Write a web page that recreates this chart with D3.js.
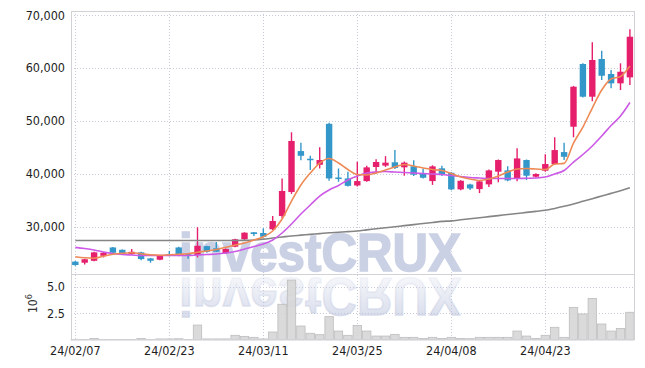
<!DOCTYPE html>
<html><head><meta charset="utf-8">
<script src="https://cdn.jsdelivr.net/npm/d3@7"></script>
<style>body{margin:0;background:#fff}svg{display:block}</style>
</head><body>
<svg id="c" width="645" height="368"></svg>
<script>
const dates = ["24/02/07","24/02/08","24/02/13","24/02/14","24/02/15","24/02/16","24/02/19","24/02/20","24/02/21","24/02/22",
"24/02/23","24/02/26","24/02/27","24/02/28","24/02/29","24/03/04","24/03/05","24/03/06","24/03/07","24/03/08",
"24/03/11","24/03/12","24/03/13","24/03/14","24/03/15","24/03/18","24/03/19","24/03/20","24/03/21","24/03/22",
"24/03/25","24/03/26","24/03/27","24/03/28","24/03/29","24/04/01","24/04/02","24/04/03","24/04/04","24/04/05",
"24/04/08","24/04/09","24/04/11","24/04/12","24/04/15","24/04/16","24/04/17","24/04/18","24/04/19","24/04/22",
"24/04/23","24/04/24","24/04/25","24/04/26","24/04/29","24/04/30","24/05/02","24/05/03","24/05/07","24/05/08"];
const open = [23400,23200,23560,24500,26080,25640,24820,25150,24010,23760,
24820,26080,24820,24640,26330,25920,25000,26220,27620,28940,
28810,29510,32020,36560,44290,42840,41700,49440,39300,39120,
37790,38620,41280,41540,42170,41220,41410,40070,38620,41030,
40200,37050,37980,37110,38000,40390,40640,39120,42600,39450,
40580,41840,44100,48890,60740,54560,61690,58850,57090,58220];
const close = [22750,23850,25150,25080,25080,24820,25260,23880,23560,24510,
24510,24510,24500,26400,25260,25280,25790,27620,28870,28620,
28110,31080,36750,46200,43400,42650,42600,39120,39100,37720,
38620,41210,42230,42100,41100,42100,39820,39250,41400,39820,
37050,38680,37230,38560,40640,42600,38750,42900,39630,39950,
41840,44480,43210,56450,54560,61500,58520,57090,59280,65900];
const high = [23500,23950,25250,25200,26150,25700,25770,25250,24100,24600,
25400,26200,24900,29900,26400,27100,25900,27700,28950,29000,
29700,32000,39100,47840,45860,43400,45000,49630,41000,40400,
42270,41500,42750,43330,44500,42300,42550,40950,41600,41500,
40300,38800,38100,38700,40800,42700,41400,44800,42700,40100,
43700,46900,45860,56600,60900,64840,63250,59610,60870,67300];
const low = [22600,22880,23450,24200,24780,24700,24700,23650,23200,23650,
24400,24400,23950,24200,25100,25200,24900,26100,27500,28240,
28000,29400,31600,36200,42570,40700,41000,38700,38500,37600,
37600,38500,40000,41300,40900,39650,39600,39100,37900,39600,
36900,36900,36930,36350,37500,38400,38600,38600,38810,39300,
40400,41700,42600,46900,54400,53700,57700,56150,55820,56770];
const volume = [0.05,0.05,0.15,0.05,0.05,0.05,0.04,0.15,0.05,0.1,
0.1,0.12,0.05,1.4,0.1,0.1,0.1,0.44,0.34,0.25,
0.1,0.75,3.35,5.62,1.31,0.63,0.5,2.19,0.84,0.44,
1.37,0.84,0.37,0.37,0.53,0.25,0.25,0.15,0.25,0.15,
0.25,0.15,0.12,0.25,0.25,0.25,0.25,0.84,0.37,0.15,
0.44,1.19,0.25,3.06,2.44,3.9,1.5,0.84,1.09,2.6];
const ma5 = [24330,24140,24050,24420,24800,24990,25080,24900,24700,24610,
24700,24800,24900,25180,25400,25700,26100,26540,26920,27480,
28110,29190,31450,34850,37880,40140,42030,42880,42030,40800,
39860,39770,40140,40710,41280,41750,41470,41090,40800,40620,
40050,39390,39010,38730,39000,39580,40330,40900,40990,40900,
40800,41840,41970,45800,48830,52420,55830,57910,58380,60360];
const ma20 = [26100,25880,25600,25220,24930,24750,24650,24560,24560,24560,
24560,24560,24560,24650,24750,24840,25030,25310,25790,26260,
26730,27490,28810,30510,32400,34100,35800,36940,37790,38830,
39570,40140,40330,40420,40330,40240,40140,40050,39960,39860,
39670,39480,39290,39200,39100,39100,39100,39100,39150,39200,
39390,39960,40620,42220,43640,45250,47140,49120,50910,53460];
const ma60 = [27400,27400,27400,27400,27400,27400,27400,27400,27400,27400,
27400,27400,27400,27400,27400,27400,27400,27400,27420,27500,
27650,27850,28050,28250,28400,28550,28700,28850,28950,29070,
29200,29400,29600,29800,30000,30200,30400,30600,30800,31000,
31100,31300,31500,31700,31900,32100,32300,32500,32700,32900,
33100,33450,33850,34300,34800,35300,35800,36300,36800,37350];
const priceTicks = [30000,40000,50000,60000,70000];
const volumeTicks = [2.5,5.0];
const tickIdx = [0,10,20,30,40,50];

const svg = d3.select("#c");
const L = 71, R = 635, T = 11, SEP = 274, B = 340;
const x = d3.scaleBand().domain(dates).range([L - 0.4, R - 0.4]).paddingInner(0).paddingOuter(0);
const cx = d => x(d) + x.bandwidth() / 2;
const y = d3.scaleLinear().domain([21063, 70756]).range([SEP, T]);
const yv = d3.scaleLinear().domain([0, 6.19]).range([B, SEP]);

const gridColor = "#c6cadb";
const font = "'DejaVu Sans Condensed','DejaVu Sans',sans-serif";

// watermark
const defs = svg.append("defs");
const grad = defs.append("linearGradient").attr("id","fade").attr("x1",0).attr("y1",0).attr("x2",0).attr("y2",1);
grad.append("stop").attr("offset","0").attr("stop-color","#cbd1e5").attr("stop-opacity",0.85);
grad.append("stop").attr("offset","1").attr("stop-color","#cbd1e5").attr("stop-opacity",0.05);
const wm = svg.append("g");
wm.append("text").attr("x",179).attr("y",271).attr("font-family","'Liberation Sans',Arial,sans-serif")
  .attr("font-weight","bold").attr("font-size",54).attr("textLength",282).attr("lengthAdjust","spacingAndGlyphs")
  .attr("fill","#cbd1e5").attr("stroke","#cbd1e5").attr("stroke-width",1.6).text("investCRUX");
wm.append("text").attr("x",179).attr("y",-278).attr("transform","scale(1,-1)").attr("font-family","'Liberation Sans',Arial,sans-serif")
  .attr("font-weight","bold").attr("font-size",54).attr("textLength",282).attr("lengthAdjust","spacingAndGlyphs")
  .attr("fill","url(#fade)").attr("stroke","url(#fade)").attr("stroke-width",1.6).text("investCRUX");

// gridlines
const g = svg.append("g");
g.selectAll(".hg").data(priceTicks).join("line")
  .attr("x1",L).attr("x2",R).attr("y1",d=>Math.round(y(d))+0.5).attr("y2",d=>Math.round(y(d))+0.5)
  .attr("stroke",gridColor).attr("stroke-dasharray","1,2");
g.selectAll(".hv").data(volumeTicks).join("line")
  .attr("x1",L).attr("x2",R).attr("y1",d=>Math.round(yv(d))+0.5).attr("y2",d=>Math.round(yv(d))+0.5)
  .attr("stroke",gridColor).attr("stroke-dasharray","1,2");
g.selectAll(".vg").data(tickIdx).join("line")
  .attr("x1",i=>Math.round(cx(dates[i]))+0.5).attr("x2",i=>Math.round(cx(dates[i]))+0.5)
  .attr("y1",T).attr("y2",B).attr("stroke",gridColor).attr("stroke-dasharray","1,2");

// volume bars
svg.append("g").selectAll("rect").data(dates).join("rect")
  .attr("x",d=>x(d)+0.5).attr("width",x.bandwidth()-1)
  .attr("y",(d,i)=>yv(volume[i])).attr("height",(d,i)=>B-yv(volume[i]))
  .attr("fill","#d6d6d6").attr("fill-opacity",0.9).attr("stroke","#bdbdbd").attr("stroke-width",0.8);

// candles
const up = "#e61f6c", down = "#3497c9";
const cg = svg.append("g");
cg.selectAll("line").data(dates).join("line")
  .attr("x1",cx).attr("x2",cx).attr("y1",(d,i)=>y(high[i])).attr("y2",(d,i)=>y(low[i]))
  .attr("stroke",(d,i)=>close[i]>=open[i]?up:down).attr("stroke-width",1.4);
cg.selectAll("rect").data(dates).join("rect")
  .attr("x",d=>cx(d)-3.2).attr("width",6.4)
  .attr("y",(d,i)=>y(Math.max(open[i],close[i])))
  .attr("height",(d,i)=>Math.max(1.5,Math.abs(y(open[i])-y(close[i]))))
  .attr("fill",(d,i)=>close[i]>=open[i]?up:down);

// MA lines
const line = arr => d3.line().x(d=>cx(d)).y((d,i)=>y(arr[i])).curve(d3.curveMonotoneX)(dates);
svg.append("path").attr("d",line(ma60)).attr("fill","none").attr("stroke","#858585").attr("stroke-width",1.6);
svg.append("path").attr("d",line(ma20)).attr("fill","none").attr("stroke","#cc5ae6").attr("stroke-width",1.6);
svg.append("path").attr("d",line(ma5)).attr("fill","none").attr("stroke","#ee8a55").attr("stroke-width",1.6);

// frame
const fr = svg.append("g").attr("stroke","#d2d2d6").attr("fill","none");
fr.append("rect").attr("x",L+0.5).attr("y",T+0.5).attr("width",R-L-1).attr("height",B-T-1);
fr.append("line").attr("x1",L).attr("x2",R).attr("y1",SEP+0.5).attr("y2",SEP+0.5);

// axes labels
const yAxis = d3.axisLeft(y).tickValues(priceTicks).tickFormat(d3.format(",")).tickSize(0).tickPadding(6);
svg.append("g").attr("transform",`translate(${L},0)`).call(yAxis)
  .call(s=>s.select(".domain").remove())
  .selectAll("text").attr("font-family",font).attr("font-size",12.5).attr("fill","#1e1e1e");
const vAxis = d3.axisLeft(yv).tickValues(volumeTicks).tickFormat(d3.format(".1f")).tickSize(0).tickPadding(6);
svg.append("g").attr("transform",`translate(${L},0)`).call(vAxis)
  .call(s=>s.select(".domain").remove())
  .selectAll("text").attr("font-family",font).attr("font-size",12.5).attr("fill","#1e1e1e");
const xAxis = d3.axisBottom(x).tickValues(tickIdx.map(i=>dates[i])).tickSize(0).tickPadding(6);
svg.append("g").attr("transform",`translate(0,${B})`).call(xAxis)
  .call(s=>s.select(".domain").remove())
  .selectAll("text").attr("font-family",font).attr("font-size",12.5).attr("fill","#1e1e1e");

// 10^6 label
const ul = svg.append("text").attr("transform","translate(37,313) rotate(-90)")
  .attr("font-family",font).attr("font-size",12).attr("fill","#333");
ul.append("tspan").text("10");
ul.append("tspan").attr("dy",-5).attr("font-size",9).text("6");
</script>
</body></html>
